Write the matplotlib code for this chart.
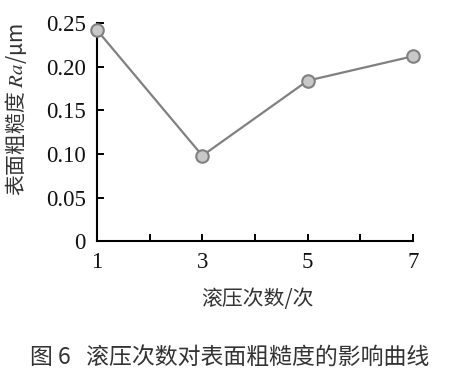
import matplotlib
matplotlib.use('Agg')
import matplotlib.pyplot as plt

plt.rcParams['font.family'] = ['Noto Sans CJK SC', 'DejaVu Sans']
plt.rcParams['mathtext.fontset'] = 'stix'

passes = [1, 3, 5, 7]
roughness = [0.242, 0.098, 0.184, 0.212]
yticks = [0, 0.05, 0.10, 0.15, 0.20, 0.25]
ytick_labels = ['0', '0.05', '0.10', '0.15', '0.20', '0.25']
xticks = [1, 3, 5, 7]

fig = plt.figure(figsize=(4.51, 3.78), dpi=100)
ax = fig.add_axes([0.215, 0.362, 0.701, 0.577])

ax.plot(passes, roughness, '-o', color='#808080', lw=1.6,
        ms=9, mfc='#c8c8c8', mec='#808080', mew=1.5, clip_on=False, zorder=3)

ax.set_xlim(1, 7)
ax.set_ylim(0, 0.25)
ax.set_xticks(xticks)
ax.set_xticks([2, 4, 6], minor=True)
ax.set_yticks(yticks)
ax.set_yticklabels(ytick_labels)
for lab in ax.get_xticklabels() + ax.get_yticklabels():
    lab.set_family('Liberation Serif')
    lab.set_fontsize(16.5)
    lab.set_color('#111111')
ax.tick_params(direction='in', length=5, width=1.4, pad=8)
ax.tick_params(which='minor', direction='in', length=5, width=1.4)
ax.spines['top'].set_visible(False)
ax.spines['right'].set_visible(False)
ax.spines['left'].set_linewidth(1.5)
ax.spines['bottom'].set_linewidth(1.5)

fig.text(0.035, 0.709, '表面粗糙度 $Ra$/μm', rotation=90, ha='center', va='center',
         fontsize=15, color='#333333')
fig.text(0.571, 0.21, '滚压次数/次', ha='center', va='center', fontsize=15, color='#333333')
fig.text(0.51, 0.055, '图 6   滚压次数对表面粗糙度的影响曲线', ha='center', va='center',
         fontsize=16.5, color='#333333')

fig.savefig('out.png', dpi=100)
